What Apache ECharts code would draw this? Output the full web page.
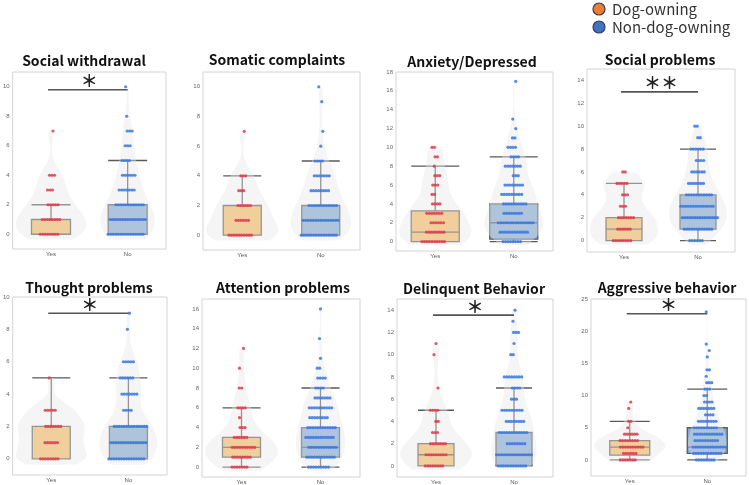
<!DOCTYPE html>
<html>
<head>
<meta charset="utf-8">
<script src="https://cdn.jsdelivr.net/npm/echarts@6/dist/echarts.min.js"></script>
<style>
  html, body { margin: 0; padding: 0; background: #fff; }
  #main { width: 749px; height: 485px; }
</style>
</head>
<body>
<div id="main"></div>
<script>
var groups = ['Yes', 'No'];
var titles = ['Social withdrawal', 'Somatic complaints', 'Anxiety/Depressed', 'Social problems',
  'Thought problems', 'Attention problems', 'Delinquent Behavior', 'Aggressive behavior'];

// number of children with each score (index = score)
var swYes = [8, 8, 5, 3, 3, 0, 0, 1];
var swNo = [15, 15, 12, 7, 6, 4, 3, 3, 1, 0, 1];
var scYes = [10, 6, 6, 3, 3, 0, 0, 1];
var scNo = [15, 15, 12, 8, 7, 4, 1, 1, 0, 1, 1];
var adYes = [10, 8, 6, 7, 4, 2, 3, 3, 1, 2, 2];
var adNo = [8, 12, 15, 8, 10, 9, 8, 3, 7, 4, 4, 2, 1, 1, 0, 0, 0, 1];
var spYes = [8, 6, 7, 3, 3, 5, 2];
var spNo = [6, 12, 15, 14, 11, 7, 6, 4, 6, 2, 2];
var tpYes = [8, 6, 7, 5, 0, 1];
var tpNo = [15, 15, 14, 4, 7, 6, 5, 0, 1, 1];
var apYes = [7, 8, 10, 6, 3, 1, 4, 0, 2, 0, 1, 0, 1];
var apNo = [9, 12, 12, 12, 12, 8, 10, 7, 4, 4, 2, 1, 0, 1, 0, 0, 1];
var dbYes = [8, 9, 7, 3, 2, 4, 0, 1, 0, 0, 1, 1];
var dbNo = [12, 15, 8, 12, 8, 9, 3, 4, 8, 0, 2, 1, 3, 1, 1];
var abYes = [7, 6, 10, 8, 6, 1, 2, 0, 1, 1];
var abNo = [8, 12, 14, 10, 12, 10, 8, 4, 7, 4, 2, 3, 3, 1, 2, 0, 1, 1, 1, 0, 0, 0, 0, 1];

var countsYes = [swYes, scYes, adYes, spYes, tpYes, apYes, dbYes, abYes];
var countsNo = [swNo, scNo, adNo, spNo, tpNo, apNo, dbNo, abNo];

// box stats: [whisker low, Q1, median, Q3, whisker high]
var boxYes = [[0, 0, 0, 1, 2], [0, 0, 0, 2, 4], [0, 0, 1, 3.25, 8], [0, 0, 1, 2, 5],
  [0, 0, 0, 2, 5], [0, 1, 2, 3, 6], [0, 0, 1, 2, 5], [0, 0.75, 2, 3, 6]];
var boxNo = [[0, 0, 1, 2, 5], [0, 0, 1, 2, 5], [0, 0.25, 2, 4, 9], [0, 1, 2, 4, 8],
  [0, 0, 1, 2, 5], [0, 1, 2, 4, 8], [0, 0, 1, 3, 7], [0, 1, 2, 5, 11]];

// significance bar height and marks
var sigY = [9.8, null, null, 13.0, 9.0, null, 13.55, 22.7];
var sigMark = ['＊', '', '', '＊＊', '＊', '', '＊', '＊'];

// y axis: min, max, label step
var yMin = [-1, -1, -1, -1, -1, -1, -1, -2.5];
var yMax = [11, 11, 18, 15, 10, 17, 15, 25];
var yStep = [2, 2, 2, 2, 2, 2, 2, 5];

// layout
var gridBox = [[10, 72, 156, 177], [203, 72, 157, 178], [396, 72, 157, 179], [587, 69, 148, 183],
  [10, 297, 157, 178], [202, 299, 158, 178], [397, 299, 156, 178], [591, 299, 155, 177]];
var boxW = [39, 38, 48, 36, 38, 38, 36, 40];
var titlePos = [[84, 61], [277, 60], [472, 62], [660, 60], [89, 288], [283, 288], [474, 289], [667, 288]];

var myChart = echarts.init(document.getElementById('main'));

function expand(counts) {
  var out = [];
  counts.forEach(function (c, v) { for (var i = 0; i < c; i++) out.push(v); });
  return out;
}

// gaussian kde outline for one group
function violinShape(counts) {
  var vals = expand(counts);
  var n = vals.length;
  var mean = vals.reduce(function (a, b) { return a + b; }, 0) / n;
  var sd = Math.sqrt(vals.reduce(function (a, b) { return a + (b - mean) * (b - mean); }, 0) / (n - 1));
  var h = 0.8 * sd * Math.pow(n, -0.2);
  var lo = vals[0] - 0.35, hi = vals[n - 1];
  var pts = [];
  for (var k = 0; k <= 80; k++) {
    var y = lo + (hi - lo) * k / 80;
    var d = 0;
    vals.forEach(function (x) { d += Math.exp(-0.5 * Math.pow((y - x) / h, 2)); });
    d = d / (n * h * Math.sqrt(2 * Math.PI));
    if (k === 80) d = d * 0.1;
    pts.push([y, d]);
  }
  return pts;
}

var violins = [], violinMax = [];
for (var p = 0; p < 8; p++) {
  var a = violinShape(countsYes[p]), b = violinShape(countsNo[p]);
  violins.push([a, b]);
  var m = 0;
  a.concat(b).forEach(function (s) { m = Math.max(m, s[1]); });
  violinMax.push(m);
}

function violinRender(p) {
  return function (params, api) {
    var g = api.value(0);
    var band = api.size([1, 0])[0];
    var left = [], right = [];
    violins[p][g].forEach(function (s) {
      var c = api.coord([g, s[0]]);
      var w = s[1] / violinMax[p] * 0.46 * band;
      left.push([c[0] - w, c[1]]);
      right.unshift([c[0] + w, c[1]]);
    });
    return {
      type: 'polygon',
      shape: { points: left.concat(right), smooth: 0.2 },
      style: { fill: 'rgba(232,232,232,0.42)' }
    };
  };
}

function sigRender(p) {
  return function (params, api) {
    var y = api.value(1);
    var c0 = api.coord([0, y]), c1 = api.coord([1, y]);
    return {
      type: 'group',
      children: [
        { type: 'line', shape: { x1: c0[0] - 3, y1: c0[1], x2: c1[0], y2: c1[1] },
          style: { stroke: '#555', lineWidth: 1.6 } },
        { type: 'text', style: { text: sigMark[p], x: (c0[0] + c1[0]) / 2, y: c0[1] - 9,
          textAlign: 'center', textVerticalAlign: 'middle', fill: '#222',
          font: 'bold 17px "Noto Sans CJK JP"' } }
      ]
    };
  };
}

function dots(counts, g) {
  var out = [];
  counts.forEach(function (c, v) {
    var shift = ((v * 7) % 5) - 2;
    for (var i = 0; i < c; i++) {
      out.push({ value: [g, v], symbolOffset: [(i - (c - 1) / 2) * 2.5 + shift, 0] });
    }
  });
  return out;
}

var grid = [], xAxis = [], yAxis = [], series = [], graphic = [];
for (var i = 0; i < 8; i++) {
  grid.push({ left: gridBox[i][0], top: gridBox[i][1], width: gridBox[i][2], height: gridBox[i][3],
    show: true, borderColor: '#d4d4d4', borderWidth: 1 });
  xAxis.push({ gridIndex: i, type: 'category', data: groups,
    axisLine: { show: false }, axisTick: { show: false },
    axisLabel: { fontSize: 6, color: '#555', margin: 2 } });
  (function (step) {
    yAxis.push({ gridIndex: i, type: 'value', min: yMin[i], max: yMax[i], interval: step === 5 ? 2.5 : 1,
      axisLine: { show: false }, axisTick: { show: false }, splitLine: { show: false },
      axisLabel: { fontSize: 6, color: '#666', margin: 3, showMinLabel: true, showMaxLabel: true,
        formatter: function (v) { return (v >= 0 && Math.abs(v % step) < 1e-6) ? String(v) : ''; } } });
  })(yStep[i]);

  series.push({
    type: 'boxplot', xAxisIndex: i, yAxisIndex: i, z: 2, boxWidth: [boxW[i], boxW[i]],
    itemStyle: { borderColor: '#5a5a5a', borderWidth: 1.3 },
    data: [
      { value: boxYes[i], itemStyle: { color: '#F7BD66' } },
      { value: boxNo[i], itemStyle: { color: '#86ABD6' } }
    ]
  });
  series.push({
    type: 'custom', xAxisIndex: i, yAxisIndex: i, z: 3, silent: true,
    renderItem: violinRender(i), encode: { x: 0, y: 1 },
    data: [[0, 0], [1, 0]]
  });
  series.push({
    type: 'scatter', xAxisIndex: i, yAxisIndex: i, z: 4, symbolSize: 3.2,
    itemStyle: { color: '#DE3B4B', opacity: 0.85 },
    data: dots(countsYes[i], 0)
  });
  series.push({
    type: 'scatter', xAxisIndex: i, yAxisIndex: i, z: 4, symbolSize: 3.2,
    itemStyle: { color: '#3A78E0', opacity: 0.85 },
    data: dots(countsNo[i], 1)
  });
  if (sigY[i] !== null) {
    series.push({
      type: 'custom', xAxisIndex: i, yAxisIndex: i, z: 5, silent: true,
      renderItem: sigRender(i), encode: { x: 0, y: 1 },
      data: [[0, sigY[i]]]
    });
  }
  graphic.push({ type: 'text', x: titlePos[i][0], y: titlePos[i][1],
    style: { text: titles[i], textAlign: 'center', textVerticalAlign: 'middle',
      font: 'bold 14px "Noto Sans CJK JP"', fill: '#111' } });
}

// legend
graphic.push({ type: 'circle', shape: { cx: 599, cy: 9, r: 6 }, style: { fill: '#ED7D31', stroke: '#2F3F5F', lineWidth: 1.2 } });
graphic.push({ type: 'circle', shape: { cx: 599, cy: 27, r: 6 }, style: { fill: '#4472C4', stroke: '#2F3F5F', lineWidth: 1.2 } });
graphic.push({ type: 'text', x: 612, y: 9, style: { text: 'Dog-owning', textVerticalAlign: 'middle',
  font: '15px "Noto Sans CJK JP"', fill: '#333' } });
graphic.push({ type: 'text', x: 612, y: 27, style: { text: 'Non-dog-owning', textVerticalAlign: 'middle',
  font: '15px "Noto Sans CJK JP"', fill: '#333' } });

var option = {
  animation: false,
  backgroundColor: '#fff',
  grid: grid,
  xAxis: xAxis,
  yAxis: yAxis,
  series: series,
  graphic: graphic
};
myChart.setOption(option);
window.addEventListener('resize', function () {
  myChart.resize();
});
</script>
</body>
</html>
